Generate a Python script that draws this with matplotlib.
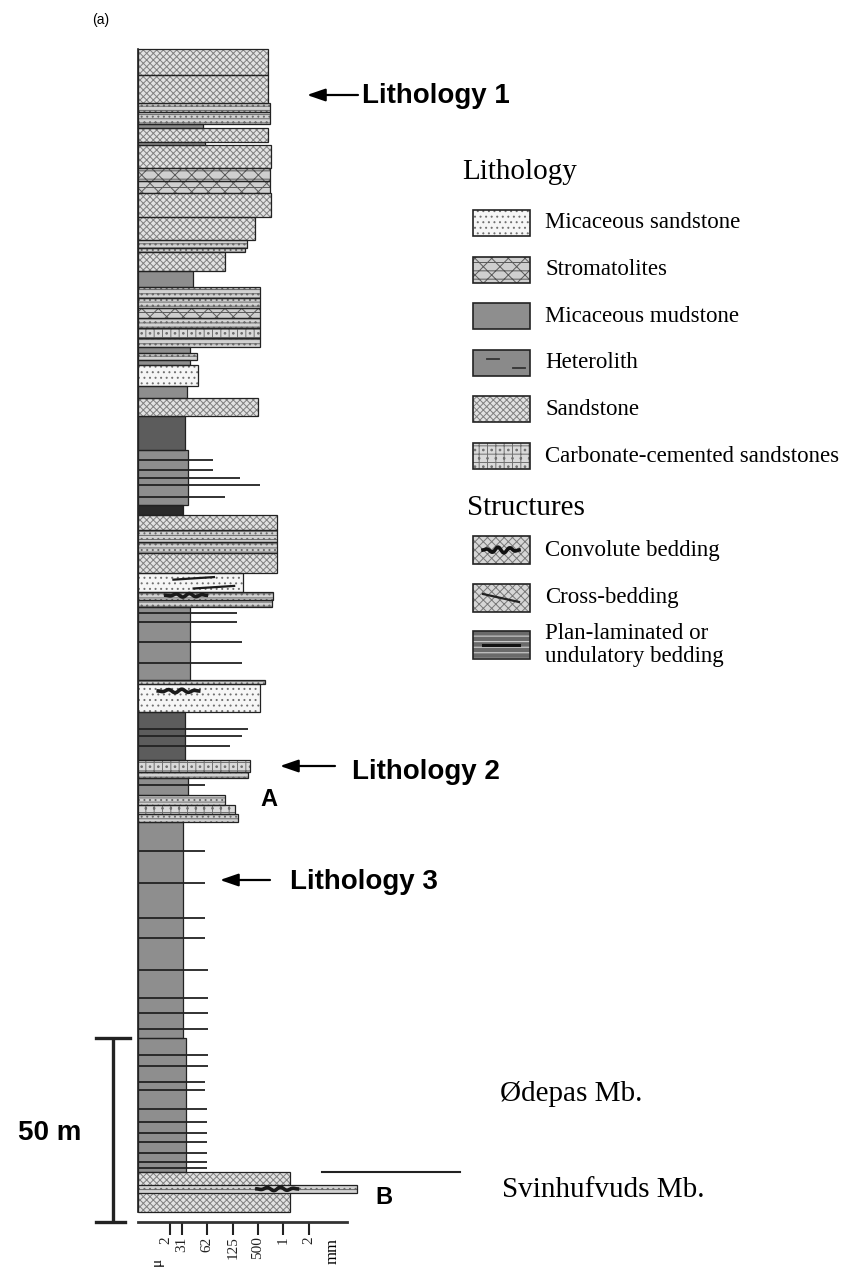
import matplotlib
matplotlib.use("Agg")
import matplotlib.pyplot as plt
from matplotlib.patches import Rectangle
from matplotlib.transforms import ScaledTranslation
import numpy as np

# ---------------------------------------------------------------------------
# Sedimentary log data (heights in metres above the log base, grain size in
# grain-scale units measured from the left edge of the column)
# ---------------------------------------------------------------------------
BED_TOP = [318.8, 311.8, 304.2, 301.5, 298.4, 297.3, 293.5, 292.7, 286.4, 283.0,
           279.7, 273.0, 266.8, 264.7, 263.6, 258.5, 254.0, 251.1, 248.4, 245.7,
           243.0, 240.2, 237.8, 236.1, 234.2, 232.9, 227.2, 223.9, 219.0, 209.8,
           194.8, 192.1, 188.0, 184.8, 181.8, 176.4, 171.2, 169.0, 167.1, 147.3,
           146.2, 138.6, 125.5, 122.3, 120.7, 116.0, 113.3, 110.9, 108.7, 50.0,
           13.6]
BED_BASE = [311.8, 304.2, 301.5, 298.4, 297.3, 293.5, 292.7, 286.4, 283.0, 279.7,
            273.0, 266.8, 264.7, 263.6, 258.5, 254.0, 251.1, 248.4, 245.7, 243.0,
            240.2, 237.8, 236.1, 234.2, 232.9, 227.2, 223.9, 219.0, 209.8, 194.8,
            192.1, 188.0, 184.8, 181.8, 176.4, 171.2, 169.0, 167.1, 147.3, 146.2,
            138.6, 125.5, 122.3, 120.7, 116.0, 113.3, 110.9, 108.7, 50.0, 13.6,
            2.7]
BED_GRAIN = [5.14, 5.14, 5.22, 5.22, 2.57, 5.14, 2.65, 5.26, 5.22, 5.22,
             5.26, 4.62, 4.31, 4.23, 3.44, 2.17, 4.82, 4.82, 4.82, 4.82,
             4.82, 4.82, 2.06, 2.33, 2.06, 2.37, 1.94, 4.74, 1.85, 1.98,
             1.78, 5.49, 5.49, 5.49, 5.49, 4.15, 5.34, 5.30, 2.06, 5.02,
             4.82, 1.86, 4.43, 4.35, 1.98, 3.44, 3.83, 3.95, 1.78, 1.90,
             6.00]
BED_LITH = ["sand", "sand", "lam", "lam", "mud", "sand", "mud", "sand", "strom", "strom",
            "sand", "sand", "lam", "lam", "sand", "mud", "lam", "lam", "strom", "lam",
            "carb", "lam", "mud", "lam", "mud", "mica", "mud", "sand", "het", "mud",
            "dark", "sand", "lam", "lam", "sand", "mica", "lam", "lam", "mud", "lam",
            "mica", "het", "carb", "lam", "mud", "lam", "carb", "lam", "mud", "mud",
            "sand"]

# Convolute-bedded tongue at the base of the section
TONGUE_TOP, TONGUE_BASE, TONGUE_GRAIN = 10.1, 7.9, 8.66

# Thin sandy laminae within the fine-grained intervals
STREAK_H = [207.1, 204.3, 202.2, 200.3, 197.0, 165.5, 163.0, 157.6, 151.9,
            134.0, 132.1, 129.3, 118.8, 100.8, 92.1, 82.6, 77.2, 68.5, 60.9,
            56.8, 52.4, 45.4, 42.4, 38.0, 35.9, 30.7, 27.2, 24.2, 21.7, 18.8,
            16.3, 14.6]
STREAK_GRAIN = [2.96, 2.96, 4.03, 4.82, 3.44, 3.91, 3.91, 4.11, 4.11,
                4.35, 4.11, 3.64, 2.65, 2.65, 2.65, 2.65, 2.65, 2.77, 2.77,
                2.77, 2.77, 2.77, 2.77, 2.65, 2.65, 2.73, 2.73, 2.73, 2.73, 2.73,
                2.73, 2.73]

# Sedimentary structure symbols: height, centre (grain units), kind
STRUCT_H = [174.9, 172.5, 170.3, 144.3, 9.0]
STRUCT_X = [2.2, 3.0, 1.9, 1.6, 5.5]
STRUCT_KIND = ["cross", "cross", "conv", "conv", "conv"]

# Grain-size scale
GRAIN_TICKS = [1.26, 1.74, 2.73, 3.75, 4.74, 5.73, 6.76]
GRAIN_LABELS = ["2", "31", "62", "125", "500", "1", "2"]
AXIS_END = 8.26

SCALE_BAR_M = 50
MEMBER_BOUNDARY = 13.6

LITH_LEGEND = ["Micaceous sandstone", "Stromatolites", "Micaceous mudstone",
               "Heterolith", "Sandstone", "Carbonate-cemented sandstones"]
LITH_LEGEND_KIND = ["mica", "strom", "mud", "het_leg", "sand", "carb"]
STRUCT_LEGEND = ["Convolute bedding", "Cross-bedding",
                 "Plan-laminated or\nundulatory bedding"]
STRUCT_LEGEND_KIND = ["conv_leg", "cross_leg", "plan_leg"]

# ---------------------------------------------------------------------------
SERIF = ["Liberation Serif", "DejaVu Serif"]
SANS = ["Liberation Sans", "DejaVu Sans"]
plt.rcParams["hatch.linewidth"] = 0.7

STYLE = {
    "sand":  dict(fc="#e2e2e2", hatch="xxxxx", hc="#808080"),
    "mica":  dict(fc="#f6f6f6", hatch="...", hc="#707070"),
    "lam":   dict(fc="#d2d2d2", hatch="----...", hc="#6a6a6a"),
    "strom": dict(fc="#cfcfcf", hatch="xx--", hc="#5a5a5a"),
    "carb":  dict(fc="#dadada", hatch="++..", hc="#707070"),
    "mud":   dict(fc="#8e8e8e", hatch=None, hc="#8e8e8e"),
    "het":   dict(fc="#5c5c5c", hatch=None, hc="#5c5c5c"),
    "dark":  dict(fc="#2a2a2a", hatch=None, hc="#2a2a2a"),
    "het_leg": dict(fc="#8a8a8a", hatch=None, hc="#8a8a8a"),
    "conv_leg": dict(fc="#d6d6d6", hatch="xxxx", hc="#777777"),
    "cross_leg": dict(fc="#d6d6d6", hatch="xxxx", hc="#777777"),
    "plan_leg": dict(fc="#6a6a6a", hatch="---", hc="#dddddd"),
}

W, H = 855, 1279
PX_PER_G, PX_PER_M = 25.3, 3.68
X0, Y0 = 138, 1222

fig = plt.figure(figsize=(W / 100, H / 100), dpi=100)
ax = fig.add_axes([0, 0, 1, 1])
ax.set_xlim(-X0 / PX_PER_G, (W - X0) / PX_PER_G)
ax.set_ylim(-(H - Y0) / PX_PER_M, Y0 / PX_PER_M)


def px(x, y):
    """Pixel position -> data coordinates."""
    return (x - X0) / PX_PER_G, (Y0 - y) / PX_PER_M


def styled_rect(axis, x, y, w, h, kind, transform=None, lw=0.9, zorder=2):
    st = STYLE[kind]
    kw = {} if transform is None else {"transform": transform}
    axis.add_patch(Rectangle((x, y), w, h, facecolor=st["fc"], edgecolor=st["hc"],
                             hatch=st["hatch"], linewidth=0, zorder=zorder, **kw))
    axis.add_patch(Rectangle((x, y), w, h, fill=False, edgecolor="#222222",
                             linewidth=lw, zorder=zorder + 0.1, **kw))


# Beds
for top, base, g, lith in zip(BED_TOP, BED_BASE, BED_GRAIN, BED_LITH):
    styled_rect(ax, 0, base, g, top - base, lith)
styled_rect(ax, 0, TONGUE_BASE, TONGUE_GRAIN, TONGUE_TOP - TONGUE_BASE, "lam", zorder=3)

# Laminae
ax.hlines(STREAK_H, 0, STREAK_GRAIN, colors="#222222", linewidth=1.3, zorder=4)

# Structures
for h, xc, kind in zip(STRUCT_H, STRUCT_X, STRUCT_KIND):
    t = np.linspace(-1, 1, 40)
    if kind == "cross":
        ax.plot(xc + 0.8 * t, h + 0.35 * t, color="#1a1a1a", lw=1.6, zorder=5)
    else:
        ax.plot(xc + 0.8 * t, h + 0.5 * np.sin(3 * np.pi * t) * (1 - t ** 2),
                color="#1a1a1a", lw=2.6, zorder=5)

# Left margin of the column
ax.plot([0, 0], [BED_BASE[-1], BED_TOP[0]], color="#222222", lw=1.2, zorder=6)

# Grain-size axis
for s in ["left", "right", "top"]:
    ax.spines[s].set_visible(False)
ax.spines["bottom"].set_position(("data", 0))
ax.spines["bottom"].set_bounds(0, AXIS_END)
ax.spines["bottom"].set_linewidth(2.0)
ax.spines["bottom"].set_color("#333333")
ax.set_yticks([])
ax.set_xticks(GRAIN_TICKS)
ax.set_xticklabels(GRAIN_LABELS, rotation=90, family=SERIF, fontsize=11)
ax.tick_params(axis="x", direction="out", length=9.5, width=1.5, pad=1, colors="#222222")
first = ax.get_xticklabels()[0]
first.set_transform(first.get_transform() + ScaledTranslation(-4 / 100, 0, fig.dpi_scale_trans))
ax.text(*px(157, 1258), "μ", rotation=90, ha="center", va="top", family=SERIF, fontsize=11)
ax.text(*px(333, 1238), "mm", rotation=90, ha="center", va="top", family=SERIF, fontsize=12)

# Scale bar
sx = px(113, 0)[0]
cap = 17 / PX_PER_G
ax.plot([sx, sx], [0, SCALE_BAR_M], color="#222222", lw=2.4, solid_capstyle="butt")
ax.plot([sx - cap, sx + cap], [SCALE_BAR_M, SCALE_BAR_M], color="#222222", lw=2.4)
ax.plot([sx - cap, sx + cap * 0.7], [0, 0], color="#222222", lw=2.4)
ax.text(*px(18, 1133), "50 m", ha="left", va="center", family=SANS,
        fontweight="bold", fontsize=20)

# Member boundary and names
bx0, _ = px(322, 0)
bx1, _ = px(460, 0)
ax.plot([bx0, bx1], [MEMBER_BOUNDARY, MEMBER_BOUNDARY], color="#222222", lw=1.5)
ax.text(*px(500, 1094), "Ødepas Mb.", ha="left", va="center", family=SERIF, fontsize=21)
ax.text(*px(502, 1190), "Svinhufvuds Mb.", ha="left", va="center", family=SERIF, fontsize=21)

# Labels on the log
ax.text(*px(92, 20), "(a)", ha="left", va="center", family=SANS, fontsize=10)
ax.text(*px(260, 800), "A", ha="left", va="center", family=SANS, fontweight="bold", fontsize=17)
ax.text(*px(375, 1197), "B", ha="left", va="center", family=SANS, fontweight="bold", fontsize=17)

for (tx, hx, ay), (lx, ly), label in [((358, 307, 95), (362, 96), "Lithology 1"),
                                      ((335, 280, 766), (352, 772), "Lithology 2"),
                                      ((270, 220, 880), (290, 882), "Lithology 3")]:
    ax.annotate("", xy=px(hx, ay), xytext=px(tx, ay),
                arrowprops=dict(arrowstyle="-|>,head_length=1.1,head_width=0.38",
                                color="black", lw=1.6, shrinkA=0, shrinkB=0))
    ax.text(*px(lx, ly), label, ha="left", va="center", family=SANS,
            fontweight="bold", fontsize=20)

# Legend
def fig_xy(x, y):
    return x / W, 1 - y / H

ftr = fig.transFigure
fig.text(*fig_xy(462, 172), "Lithology", ha="left", va="center", family=SERIF, fontsize=21)
for i, (label, kind) in enumerate(zip(LITH_LEGEND, LITH_LEGEND_KIND)):
    yc = 223 + i * 46.6
    bx, by = fig_xy(473, yc + 13)
    styled_rect(ax, bx, by, 57 / W, 26 / H, kind, transform=ftr, lw=1.2)
    fig.text(*fig_xy(545, yc), label, ha="left", va="center", family=SERIF, fontsize=16.5)
    if kind == "het_leg":
        for dx, dy in [(14, -4), (40, 5)]:
            x0, y0 = fig_xy(473 + dx, yc + dy)
            fig.add_artist(plt.Line2D([x0, x0 + 12 / W], [y0, y0], transform=ftr,
                                      color="#333333", lw=1.3))

fig.text(*fig_xy(467, 508), "Structures", ha="left", va="center", family=SERIF, fontsize=21)
for yc, label, kind in zip([550, 598, 645], STRUCT_LEGEND, STRUCT_LEGEND_KIND):
    bx, by = fig_xy(473, yc + 14)
    styled_rect(ax, bx, by, 57 / W, 28 / H, kind, transform=ftr, lw=1.2)
    fig.text(*fig_xy(545, yc), label, ha="left", va="center", family=SERIF,
             fontsize=16.5, linespacing=1.1)
    t = np.linspace(-1, 1, 30)
    xs = (501 + 18 * t) / W
    if kind == "conv_leg":
        ys = 1 - (yc + 3 * np.sin(3 * np.pi * t) * (1 - t ** 2)) / H
        fig.add_artist(plt.Line2D(xs, ys, transform=ftr, color="#111111", lw=2.6))
    elif kind == "cross_leg":
        ys = 1 - (yc + 4 * t) / H
        fig.add_artist(plt.Line2D(xs, ys, transform=ftr, color="#222222", lw=1.6))
    else:
        ys = 1 - (yc + 0 * t) / H
        fig.add_artist(plt.Line2D(xs, ys, transform=ftr, color="#111111", lw=2.2))

fig.savefig("out.png", dpi=100, facecolor="white")
